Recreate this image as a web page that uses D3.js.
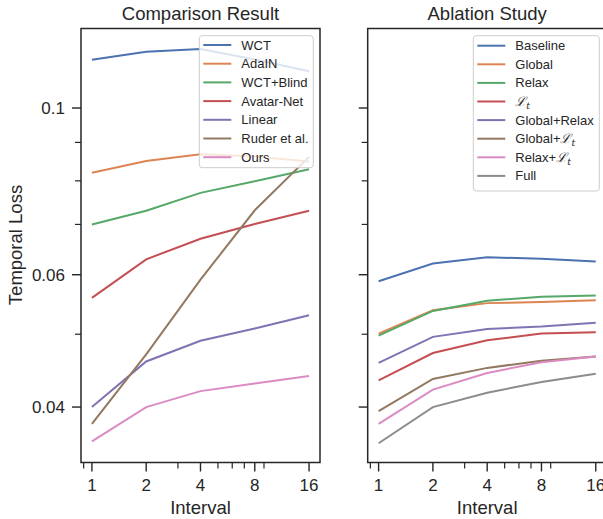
<!DOCTYPE html>
<html lang="en">
<head>
<meta charset="UTF-8">
<title>Temporal Loss</title>
<script src="https://d3js.org/d3.v7.min.js"></script>
<style>
  body { margin: 0; background: #fff; }
  svg { font-family: "Liberation Sans", Arial, sans-serif; }
</style>
</head>
<body>
<div id="chart"></div>
<script>
// x values
const intervals = [1, 2, 4, 8, 16];
const xTickLabels = ["1", "2", "4", "8", "16"];

// Comparison Result
const wct        = [0.1159, 0.1188, 0.1198, 0.1160, 0.1119];
const adain      = [0.0820, 0.0850, 0.0868, 0.0862, 0.0849];
const wctBlind   = [0.0700, 0.0730, 0.0771, 0.0799, 0.0829];
const avatarNet  = [0.0559, 0.0629, 0.0670, 0.0701, 0.0730];
const linear     = [0.0400, 0.0460, 0.0490, 0.0509, 0.0530];
const ruder      = [0.0380, 0.0470, 0.0591, 0.0731, 0.0861];
const ours       = [0.0360, 0.0400, 0.0420, 0.0430, 0.0440];
const comparisonLabels = ["WCT", "AdaIN", "WCT+Blind", "Avatar-Net", "Linear", "Ruder et al.", "Ours"];

// Ablation Study
const baseline    = [0.0588, 0.0621, 0.0633, 0.0630, 0.0625];
const global      = [0.0501, 0.0538, 0.0550, 0.0552, 0.0555];
const relax       = [0.0498, 0.0537, 0.0554, 0.0561, 0.0563];
const lt          = [0.0434, 0.0472, 0.0491, 0.0501, 0.0503];
const globalRelax = [0.0458, 0.0496, 0.0508, 0.0512, 0.0518];
const globalLt    = [0.0395, 0.0436, 0.0451, 0.0461, 0.0467];
const relaxLt     = [0.0380, 0.0422, 0.0444, 0.0459, 0.0467];
const full        = [0.0358, 0.0400, 0.0418, 0.0432, 0.0443];
const ablationLabels = ["Baseline", "Global", "Relax", "Lt", "Global+Relax", "Global+Lt", "Relax+Lt", "Full"];

// y ticks
const yMajor = [0.04, 0.06, 0.1];
const yMinor = [0.05, 0.07, 0.08, 0.09];
const xMinor = [0.9, 3, 5, 6, 7, 9];

const palette = ["#4C72B0", "#DD8452", "#55A868", "#C44E52", "#8172B3", "#937860", "#DA8BC3", "#8C8C8C"];

const W = 603, H = 519;
const svg = d3.select("#chart").append("svg").attr("width", W).attr("height", H);

const plotTop = 28.5, plotBottom = 462.5;
const y = d3.scaleLog().domain([0.03375, 0.12759]).range([plotBottom, plotTop]);

function panel(x0, x1, title, series, labels, legendBox, showYLabels) {
    const x = d3.scaleLog().base(2).domain([0.87, 18.4]).range([x0, x1]);
    const g = svg.append("g");

    const line = d3.line().x((d, i) => x(intervals[i])).y(d => y(d));
    series.forEach((s, i) => {
        g.append("path").datum(s)
            .attr("fill", "none")
            .attr("stroke", palette[i])
            .attr("stroke-width", 2)
            .attr("d", line);
    });

    // frame
    g.append("rect")
        .attr("x", x0).attr("y", plotTop)
        .attr("width", x1 - x0).attr("height", plotBottom - plotTop)
        .attr("fill", "none").attr("stroke", "#262626").attr("stroke-width", 1.5);

    // x ticks
    intervals.forEach((v, i) => {
        g.append("line").attr("x1", x(v)).attr("x2", x(v))
            .attr("y1", plotBottom).attr("y2", plotBottom + 9)
            .attr("stroke", "#262626").attr("stroke-width", 1.4);
        g.append("text").attr("x", x(v)).attr("y", 490.5)
            .attr("text-anchor", "middle").attr("font-size", 17).attr("fill", "#262626")
            .text(xTickLabels[i]);
    });
    xMinor.forEach(v => {
        g.append("line").attr("x1", x(v)).attr("x2", x(v))
            .attr("y1", plotBottom).attr("y2", plotBottom + 6)
            .attr("stroke", "#262626").attr("stroke-width", 1.2);
    });

    // y ticks
    yMajor.forEach(v => {
        g.append("line").attr("x1", x0 - 9).attr("x2", x0)
            .attr("y1", y(v)).attr("y2", y(v))
            .attr("stroke", "#262626").attr("stroke-width", 1.4);
        if (showYLabels) {
            g.append("text").attr("x", x0 - 16).attr("y", y(v)).attr("dy", "0.36em")
                .attr("text-anchor", "end").attr("font-size", 17).attr("fill", "#262626")
                .text(String(v));
        }
    });
    yMinor.forEach(v => {
        g.append("line").attr("x1", x0 - 6).attr("x2", x0)
            .attr("y1", y(v)).attr("y2", y(v))
            .attr("stroke", "#262626").attr("stroke-width", 1.2);
    });

    const cx = (x(1) + x(16)) / 2;
    g.append("text").attr("x", cx).attr("y", 20)
        .attr("text-anchor", "middle").attr("font-size", 18.5).attr("fill", "#262626")
        .text(title);
    g.append("text").attr("x", cx).attr("y", 514)
        .attr("text-anchor", "middle").attr("font-size", 18.5).attr("fill", "#262626")
        .text("Interval");

    // legend
    const lb = legendBox;
    g.append("rect").attr("x", lb.x).attr("y", lb.y)
        .attr("width", lb.w).attr("height", lb.h).attr("rx", 3)
        .attr("fill", "#fff").attr("fill-opacity", 0.8)
        .attr("stroke", "#cccccc").attr("stroke-width", 1);
    labels.forEach((lab, i) => {
        const ry = lb.row0 + i * lb.step;
        g.append("line").attr("x1", lb.x + 4).attr("x2", lb.x + 32)
            .attr("y1", ry).attr("y2", ry)
            .attr("stroke", palette[i]).attr("stroke-width", 2);
        const t = g.append("text").attr("x", lb.x + 42).attr("y", ry).attr("dy", "0.35em")
            .attr("font-size", 13).attr("fill", "#262626");
        if (lab.endsWith("Lt")) {
            const pre = lab.slice(0, -2);
            if (pre) t.append("tspan").text(pre);
            t.append("tspan").attr("font-family", "DejaVu Serif").attr("font-style", "italic").text("\u2112");
            t.append("tspan").attr("font-family", "DejaVu Serif").attr("font-style", "italic")
                .attr("font-size", 9.5).attr("dy", 3).text("t");
        } else {
            t.text(lab);
        }
    });
}

panel(81, 320, "Comparison Result",
      [wct, adain, wctBlind, avatarNet, linear, ruder, ours],
      comparisonLabels,
      {x: 199.3, y: 35.7, w: 114, h: 132, row0: 45, step: 18.7}, true);

panel(367.7, 606.7, "Ablation Study",
      [baseline, global, relax, lt, globalRelax, globalLt, relaxLt, full],
      ablationLabels,
      {x: 473.3, y: 35.7, w: 126, h: 155.3, row0: 45.7, step: 18.6}, false);

svg.append("text")
    .attr("transform", "translate(22.2,245) rotate(-90)")
    .attr("text-anchor", "middle").attr("font-size", 18.5).attr("fill", "#262626")
    .text("Temporal Loss");
</script>
</body>
</html>
